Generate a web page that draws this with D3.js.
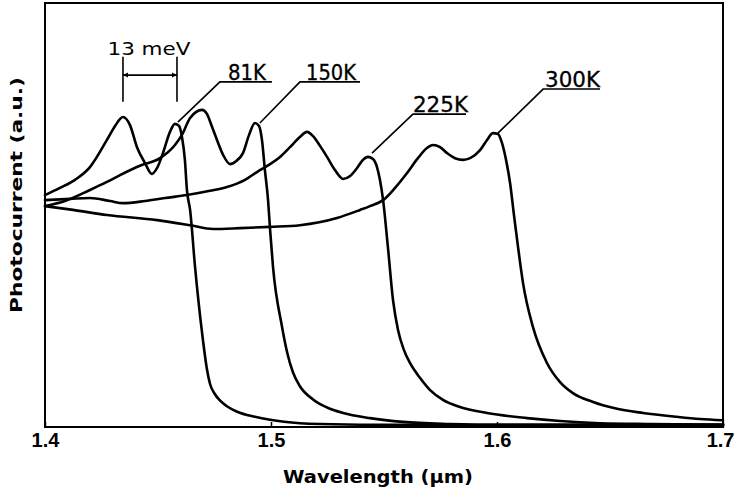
<!DOCTYPE html>
<html>
<head>
<meta charset="utf-8">
<script src="https://cdn.jsdelivr.net/npm/d3@7/dist/d3.min.js"></script>
<style>
  html, body { margin: 0; padding: 0; background: #fff; }
  svg { display: block; }
</style>
</head>
<body>
<svg id="chart" width="735" height="492"></svg>
<script>
// ---- data (wavelength in µm, photocurrent in arbitrary units 0..100) ----
const xTicks = [1.4, 1.5, 1.6, 1.7];
const seriesNames = ["81K", "150K", "225K", "300K"];

const wl81 = [1.400, 1.4066, 1.4133, 1.4199, 1.4274, 1.4310, 1.4345, 1.4376, 1.4407, 1.4442, 1.4473, 1.4496, 1.4522, 1.4553, 1.4575, 1.4593, 1.4606, 1.4619, 1.4628, 1.4642, 1.4664, 1.4695, 1.4717, 1.4730, 1.4750, 1.4775, 1.4805, 1.4850, 1.4929, 1.4996, 1.5128, 1.5217, 1.5571, 1.7];
const pc81 = [54.7, 56.4, 58.3, 61.3, 67.7, 71.0, 73.1, 71.2, 66.0, 62.3, 59.7, 61.1, 64.6, 69.6, 71.5, 71.0, 68.4, 63.0, 55.9, 51.2, 37.7, 22.2, 13.5, 10.2, 7.9, 6.2, 4.9, 3.6, 2.4, 1.7, 0.9, 0.7, 0.5, 0.5];

const wl150 = [1.400, 1.4088, 1.4199, 1.4274, 1.4332, 1.4420, 1.4509, 1.4575, 1.4606, 1.4642, 1.4695, 1.4717, 1.4739, 1.4761, 1.4788, 1.4819, 1.4845, 1.4876, 1.4903, 1.4929, 1.4947, 1.4960, 1.4973, 1.4987, 1.4996, 1.5009, 1.5049, 1.5071, 1.5097, 1.5128, 1.5186, 1.5248, 1.5319, 1.5438, 1.5584, 1.5792, 1.6013, 1.7];
const pc150 = [52.1, 53.3, 55.9, 57.8, 59.4, 61.6, 63.4, 66.5, 68.9, 72.9, 74.8, 73.8, 70.8, 67.7, 64.2, 62.0, 62.7, 64.6, 68.9, 71.7, 71.0, 67.7, 60.6, 53.5, 46.5, 37.7, 23.6, 17.7, 12.9, 9.6, 6.5, 4.6, 3.3, 2.1, 1.2, 0.7, 0.5, 0.5];

const wl225 = [1.400, 1.4111, 1.4199, 1.4288, 1.4345, 1.4442, 1.4531, 1.4628, 1.4730, 1.4805, 1.4885, 1.4951, 1.4996, 1.5040, 1.5084, 1.5128, 1.5159, 1.5186, 1.5217, 1.5248, 1.5283, 1.5319, 1.5350, 1.5381, 1.5407, 1.5429, 1.5451, 1.5469, 1.5482, 1.5496, 1.5518, 1.5540, 1.5562, 1.5588, 1.5615, 1.5659, 1.5704, 1.5761, 1.5836, 1.5956, 1.6133, 1.6279, 1.6456, 1.6677, 1.7];
const pc225 = [53.5, 53.8, 54.0, 53.3, 52.8, 53.3, 54.0, 54.7, 55.7, 56.6, 58.3, 60.6, 62.0, 63.7, 66.0, 68.4, 69.6, 68.6, 66.3, 63.7, 60.6, 58.5, 59.2, 61.1, 63.0, 63.7, 63.2, 61.3, 58.3, 53.5, 42.0, 29.9, 22.9, 18.2, 15.1, 11.6, 8.7, 6.4, 4.7, 3.3, 2.1, 1.4, 0.9, 0.7, 0.5];

const wl300 = [1.400, 1.4124, 1.4274, 1.4496, 1.4642, 1.4743, 1.4863, 1.4996, 1.5128, 1.5292, 1.5394, 1.5438, 1.5496, 1.5549, 1.5602, 1.5650, 1.5690, 1.5717, 1.5748, 1.5779, 1.5814, 1.5850, 1.5881, 1.5925, 1.5956, 1.5982, 1.6004, 1.6022, 1.6040, 1.6058, 1.6075, 1.6093, 1.6115, 1.6159, 1.6221, 1.6279, 1.6336, 1.6425, 1.6522, 1.6646, 1.6796, 1.6898, 1.7];
const pc300 = [52.1, 51.2, 50.0, 48.8, 47.6, 46.7, 46.9, 47.2, 47.6, 49.3, 51.2, 52.1, 53.5, 56.4, 59.9, 63.4, 65.8, 66.5, 66.0, 64.6, 63.4, 63.0, 63.4, 65.3, 67.7, 69.3, 69.1, 67.0, 63.0, 57.5, 50.0, 42.5, 34.0, 23.6, 15.1, 10.6, 8.0, 5.9, 4.4, 3.3, 2.4, 1.9, 1.6];

// label leader lines: [point on curve, elbow, end of underline] in data units
const labelNames = ["81K", "150K", "225K", "300K"];
const labelPointWl = [1.4588, 1.4951, 1.5447, 1.6004];
const labelPointPc = [71.9, 71.7, 64.6, 69.3];
const labelElbowWl = [1.4774, 1.5128, 1.5628, 1.6204];
const labelElbowPc = [81.4, 81.4, 73.8, 79.7];
const labelEndWl = [1.5004, 1.5394, 1.5863, 1.6456];

// 13 meV spacing marker (two 81K peaks)
const markerWl = [1.4345, 1.4584];
const markerTopPc = 87.3, markerBotPc = 76.7, markerArrowPc = 83.0;
const markerText = "13 meV";

// ---- drawing ----
const svg = d3.select("#chart");
const x = d3.scaleLinear().domain([1.4, 1.7]).range([45, 723]);
const y = d3.scaleLinear().domain([0, 100]).range([427, 3]);

// frame
svg.append("rect")
  .attr("x", x(1.4)).attr("y", y(100))
  .attr("width", x(1.7) - x(1.4)).attr("height", y(0) - y(100))
  .attr("fill", "none").attr("stroke", "#000").attr("stroke-width", 2);

// x axis
const xAxis = d3.axisBottom(x).tickValues(xTicks).tickFormat(d3.format(".1f"))
  .tickSizeInner(-5).tickSizeOuter(0).tickPadding(6);
const gx = svg.append("g").attr("transform", `translate(0,${y(0)})`).call(xAxis);
gx.select(".domain").remove();
gx.selectAll(".tick line").attr("stroke", "#000").attr("stroke-width", 1.5);
gx.selectAll(".tick text")
  .attr("font-family", "Liberation Sans, Arial, sans-serif")
  .attr("font-weight", "bold").attr("font-size", 20).attr("fill", "#000")
  .attr("text-anchor", d => d === 1.7 ? "end" : "middle")
  .attr("dx", d => d === 1.7 ? 11 : 0);

// axis titles
svg.append("text")
  .attr("x", 378).attr("y", 483)
  .attr("text-anchor", "middle")
  .attr("font-family", "DejaVu Sans, Arial, sans-serif")
  .attr("font-weight", "bold").attr("font-size", 18)
  .attr("textLength", 190).attr("lengthAdjust", "spacingAndGlyphs")
  .text("Wavelength (μm)");

svg.append("text")
  .attr("transform", "translate(22,195) rotate(-90)")
  .attr("text-anchor", "middle")
  .attr("font-family", "DejaVu Sans, Arial, sans-serif")
  .attr("font-weight", "bold").attr("font-size", 16)
  .attr("textLength", 236).attr("lengthAdjust", "spacingAndGlyphs")
  .text("Photocurrent (a.u.)");

// curves
const allWl = [wl81, wl150, wl225, wl300];
const allPc = [pc81, pc150, pc225, pc300];
const line = d3.line().x(d => x(d[0])).y(d => y(d[1])).curve(d3.curveMonotoneX);
seriesNames.forEach((name, i) => {
  const pts = allWl[i].map((w, j) => [w, allPc[i][j]]);
  svg.append("path").datum(pts)
    .attr("d", line)
    .attr("fill", "none").attr("stroke", "#000")
    .attr("stroke-width", 2.6).attr("stroke-linejoin", "round").attr("stroke-linecap", "round");
});

// labels with leader lines and underline
const labelWidths = [38, 50, 55, 55];
labelNames.forEach((name, i) => {
  const p0 = [x(labelPointWl[i]), y(labelPointPc[i])];
  const p1 = [x(labelElbowWl[i]), y(labelElbowPc[i])];
  const p2 = [x(labelEndWl[i]), y(labelElbowPc[i])];
  svg.append("path")
    .attr("d", `M${p0[0]},${p0[1]}L${p1[0]},${p1[1]}L${p2[0]},${p2[1]}`)
    .attr("fill", "none").attr("stroke", "#000").attr("stroke-width", 1.6);
  svg.append("text")
    .attr("x", (p1[0] + p2[0]) / 2 + 1).attr("y", p1[1] - 2)
    .attr("text-anchor", "middle")
    .attr("font-family", "Liberation Sans Narrow, DejaVu Sans Condensed, Arial, sans-serif")
    .attr("font-size", 21)
    .attr("textLength", labelWidths[i]).attr("lengthAdjust", "spacingAndGlyphs")
    .attr("fill", "#000").attr("stroke", "#000").attr("stroke-width", 0.3)
    .text(name);
});

// 13 meV marker
markerWl.forEach(w => {
  svg.append("line")
    .attr("x1", x(w)).attr("x2", x(w))
    .attr("y1", y(markerTopPc)).attr("y2", y(markerBotPc))
    .attr("stroke", "#000").attr("stroke-width", 1.6);
});
const ya = y(markerArrowPc), xa = x(markerWl[0]), xb = x(markerWl[1]);
svg.append("line").attr("x1", xa).attr("x2", xb).attr("y1", ya).attr("y2", ya)
  .attr("stroke", "#000").attr("stroke-width", 1.6);
svg.append("path")
  .attr("d", `M${xa},${ya}l5,-2.5l0,5z M${xb},${ya}l-5,-2.5l0,5z`)
  .attr("fill", "#000");
svg.append("text")
  .attr("x", (xa + xb) / 2 - 1).attr("y", 55)
  .attr("text-anchor", "middle")
  .attr("font-family", "DejaVu Sans, Arial, sans-serif")
  .attr("font-size", 18)
  .attr("textLength", 83).attr("lengthAdjust", "spacingAndGlyphs")
  .text(markerText);
</script>
</body>
</html>
